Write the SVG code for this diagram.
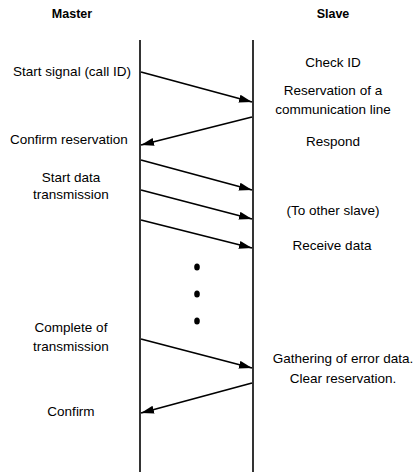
<svg xmlns="http://www.w3.org/2000/svg" width="419" height="472" viewBox="0 0 419 472">
<style>
text{font-family:"Liberation Sans",Arial,sans-serif;font-size:13.5px;fill:#000;text-anchor:middle}
.h{font-weight:bold;font-size:12.5px}
.life{stroke:#000;stroke-width:1.6;fill:none}
.msg{stroke:#000;stroke-width:1.8;fill:none;marker-end:url(#ah)}
</style>
<defs>
<marker id="ah" markerUnits="userSpaceOnUse" markerWidth="14" markerHeight="9" refX="13" refY="4.5" orient="auto">
<path d="M0,0.5 L13,4.5 L0,8.5 z" fill="#000"/>
</marker>
</defs>
<g id="master">
<text class="h" x="72" y="18">Master</text>
<line class="life" x1="140" y1="40" x2="140" y2="472"/>
</g>
<g id="slave">
<text class="h" x="333" y="18">Slave</text>
<line class="life" x1="253" y1="40" x2="253" y2="472"/>
</g>
<g id="master-labels">
<text x="72" y="76">Start signal (call ID)</text>
<text x="69" y="144">Confirm reservation</text>
<text x="71" y="182">Start data</text>
<text x="71" y="199">transmission</text>
<text x="71" y="332">Complete of</text>
<text x="71" y="351">transmission</text>
<text x="71" y="416">Confirm</text>
</g>
<g id="slave-labels">
<text x="333" y="67">Check ID</text>
<text x="333" y="95">Reservation of a</text>
<text x="333" y="114">communication line</text>
<text x="333" y="146">Respond</text>
<text x="333" y="215">(To other slave)</text>
<text x="332" y="250">Receive data</text>
<text x="343" y="363">Gathering of error data.</text>
<text x="343" y="383">Clear reservation.</text>
</g>
<g id="connectors">
<line class="msg" x1="141" y1="72" x2="252" y2="102"/>
<line class="msg" x1="252" y1="117" x2="141" y2="145"/>
<line class="msg" x1="141" y1="160" x2="252" y2="190"/>
<line class="msg" x1="141" y1="190" x2="252" y2="219"/>
<line class="msg" x1="141" y1="220" x2="252" y2="248"/>
<line class="msg" x1="141" y1="339" x2="252" y2="368"/>
<line class="msg" x1="252" y1="383" x2="141" y2="413"/>
</g>
<g id="ellipsis">
<ellipse cx="197" cy="267" rx="2.8" ry="3.6"/>
<ellipse cx="197" cy="294" rx="2.8" ry="3.6"/>
<ellipse cx="197" cy="321" rx="2.8" ry="3.6"/>
</g>
</svg>
